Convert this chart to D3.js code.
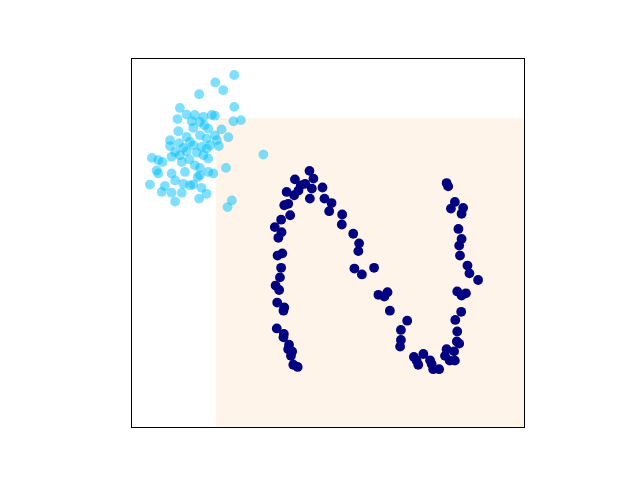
<!DOCTYPE html>
<html>
<head>
<meta charset="utf-8">
<script src="https://cdn.jsdelivr.net/npm/d3@7"></script>
<style>
  body { margin: 0; background: #fff; }
</style>
</head>
<body>
<div id="chart"></div>
<script>
// data in a 0..100 x 0..100 space
const region = [21.6, 100, 0, 83.7]; // x0, x1, y0, y1 of shaded area

const cyanX = [26.2, 21.4, 23.4, 17.3, 12.4, 26.2, 14.1, 16.2, 18.4, 20.5, 21.3, 11.8, 15.4, 17.5, 26.0, 27.9,
  15.8, 12.0, 19.6, 23.0, 17.5, 21.3, 19.2, 14.1, 9.9, 24.7, 15.0, 21.8, 20.1, 9.9, 13.3, 15.8, 17.9, 22.3,
  14.1, 11.2, 16.7, 19.2, 12.4, 18.4, 5.3, 6.9, 8.0, 10.3, 19.6, 12.9, 33.6, 6.5, 6.9, 16.2, 17.5, 24.1,
  13.7, 10.3, 19.6, 20.9, 17.5, 11.2, 15.8, 13.3, 4.8, 8.6, 7.8, 17.9, 15.0, 10.3, 12.9, 19.2, 17.3, 11.2,
  25.6, 24.5, 18.6, 14.8, 12.2, 16.9];
const cyanY = [95.4, 93.4, 91.3, 90.2, 86.5, 86.8, 84.7, 84.6, 84.1, 84.6, 84.4, 83.5, 82.9, 82.7, 82.9, 83.2,
  81.1, 80.2, 80.9, 80.7, 79.1, 79.1, 78.2, 78.7, 77.8, 78.6, 77.3, 77.8, 76.4, 76.2, 75.7, 76.4, 76.0, 76.2,
  74.8, 74.6, 74.4, 75.5, 73.7, 73.7, 73.0, 72.4, 71.9, 73.3, 72.8, 71.9, 73.9, 69.6, 68.8, 71.0, 70.3, 70.3,
  69.2, 68.8, 69.2, 68.8, 68.3, 66.9, 65.8, 66.0, 65.8, 65.4, 63.8, 64.9, 65.6, 63.6, 63.6, 63.3, 62.0, 61.2,
  61.5, 59.7, 81.8, 72.6, 77.0, 67.8];

const navyX = [45.3, 46.3, 41.6, 44.2, 43.1, 45.9, 48.6, 39.5, 41.4, 42.5, 45.4, 49.1, 50.9, 38.9, 39.9, 50.3,
  53.6, 53.5, 38.1, 40.4, 36.5, 38.2, 37.4, 56.4, 57.9, 57.7, 38.4, 37.2, 38.1, 37.8, 56.7, 58.6, 61.7,
  36.7, 37.6, 37.1, 38.9, 38.7, 37.0, 38.8, 38.7, 40.1, 39.9, 40.9, 40.6, 41.2, 42.3, 62.8, 64.3, 65.1, 65.7,
  80.1, 80.5, 82.2, 81.2, 84.3, 83.9, 83.1, 83.9, 83.3, 83.5, 85.4, 85.9, 88.1, 82.8, 85.0, 83.9, 83.8,
  70.1, 82.3, 68.5, 82.8, 68.5, 68.3, 82.7, 83.3, 80.1, 82.0, 79.7, 74.2, 71.8, 72.9, 72.5, 75.9, 76.3,
  76.7, 78.2, 80.9, 82.2];
const navyY = [69.5, 67.4, 67.2, 66.0, 65.6, 64.7, 65.0, 63.8, 62.9, 64.2, 62.0, 62.0, 60.8, 60.2, 60.6, 58.6,
  57.7, 55.0, 56.3, 57.5, 54.3, 52.9, 51.4, 52.5, 49.9, 47.8, 47.2, 46.6, 43.3, 40.7, 43.1, 41.5, 43.3,
  38.5, 37.3, 33.9, 32.6, 31.7, 26.9, 25.4, 24.5, 22.5, 21.3, 20.7, 19.5, 17.1, 16.5, 36.0, 35.5, 36.7, 31.7,
  66.2, 65.3, 61.1, 59.3, 59.5, 57.9, 53.8, 51.1, 49.3, 46.6, 43.9, 41.8, 40.0, 36.9, 36.4, 35.8, 31.4,
  29.0, 29.2, 26.5, 26.1, 23.8, 22.0, 23.4, 22.8, 21.3, 20.7, 19.5, 20.0, 19.2, 17.1, 18.2, 18.3, 17.3,
  15.9, 15.9, 18.2, 18.2];

const width = 640, height = 480;
const margin = { left: 131, right: 115, top: 58, bottom: 52 };

const svg = d3.select("#chart").append("svg")
  .attr("width", width)
  .attr("height", height);

const x = d3.scaleLinear().domain([0, 100]).range([margin.left, width - margin.right]);
const y = d3.scaleLinear().domain([0, 100]).range([height - margin.bottom, margin.top]);

svg.append("rect")
  .attr("x", x(region[0]))
  .attr("y", y(region[3]))
  .attr("width", x(region[1]) - x(region[0]))
  .attr("height", y(region[2]) - y(region[3]))
  .attr("fill", "#fff4e9");

svg.append("g").selectAll("circle")
  .data(cyanX.map((d, i) => [d, cyanY[i]]))
  .join("circle")
  .attr("cx", d => x(d[0]))
  .attr("cy", d => y(d[1]))
  .attr("r", 4.9)
  .attr("fill", "#00bfff")
  .attr("fill-opacity", 0.5);

svg.append("g").selectAll("circle")
  .data(navyX.map((d, i) => [d, navyY[i]]))
  .join("circle")
  .attr("cx", d => x(d[0]))
  .attr("cy", d => y(d[1]))
  .attr("r", 4.9)
  .attr("fill", "#000080");

svg.append("rect")
  .attr("x", x(0) + 0.5)
  .attr("y", y(100) + 0.5)
  .attr("width", x(100) - x(0) - 1)
  .attr("height", y(0) - y(100) - 1)
  .attr("fill", "none")
  .attr("stroke", "#000")
  .attr("stroke-width", 1);
</script>
</body>
</html>
